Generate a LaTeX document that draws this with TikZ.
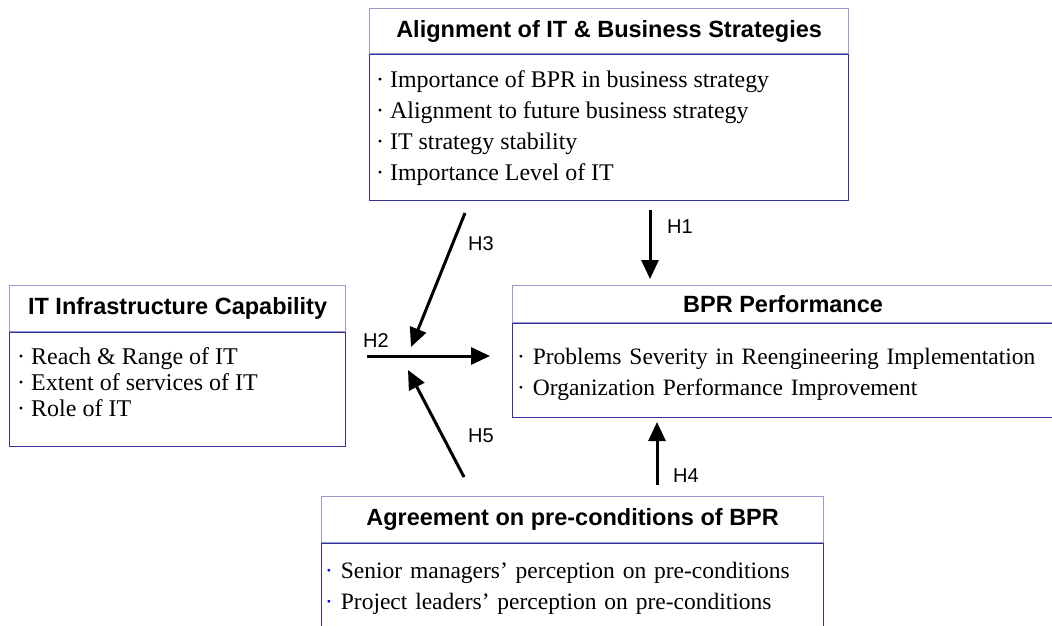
\documentclass[tikz,border=0pt]{standalone}
\usepackage{fontspec}
\setmainfont{Liberation Serif}
\newfontfamily\arialfont{Liberation Sans}
\usetikzlibrary{arrows.meta}

\definecolor{headline}{HTML}{9999CC}
\definecolor{bodyline}{HTML}{333399}
\definecolor{dotblue}{HTML}{0000FF}

\tikzset{
  headbox/.style={draw=headline, line width=1.2pt, inner sep=0pt, anchor=north west,
    font=\arialfont\bfseries\fontsize{23.5}{26}\selectfont, align=center},
  bodybox/.style={draw=bodyline, line width=1.2pt, anchor=north west, inner sep=0pt},
  bodytext/.style={align=left, inner sep=0pt, anchor=west, font=\fontsize{23.5}{31}\selectfont},
  link/.style={line width=3pt, -{Triangle[length=19pt,width=17pt]}},
  hlabel/.style={font=\arialfont\fontsize{20}{22}\selectfont, anchor=west, inner sep=0pt}
}

\begin{document}
\begin{tikzpicture}[x=1pt, y=-1pt]
\clip (0,0) rectangle (1052,625);

% Alignment of IT & Business Strategies
\node[headbox, minimum width=479pt, minimum height=45pt] (align) at (369,8)
  {Alignment of IT \& Business Strategies};
\node[bodybox, minimum width=479pt, minimum height=146pt] (alignbody) at (align.south west) {};
\node[bodytext, font=\fontsize{23.9}{31}\selectfont] (aligntext)
  at ([xshift=7pt, yshift=-0.5pt]alignbody.west)
  {· Importance of BPR in business strategy\\
   · Alignment to future business strategy\\
   · IT strategy stability\\
   · Importance Level of IT};

% IT Infrastructure Capability: list set a little above the centre of its frame
\node[headbox, minimum width=336pt, minimum height=46pt] (infra) at (9,285)
  {IT Infrastructure Capability};
\node[bodybox, minimum width=336pt, minimum height=114pt] (infrabody) at (infra.south west) {};
\node[bodytext, font=\fontsize{24}{26}\selectfont] (infratext)
  at ([xshift=8pt, yshift=7.5pt]infrabody.west)
  {· Reach \& Range of IT\\
   · Extent of services of IT\\
   · Role of IT};

% BPR Performance
\node[headbox, minimum width=541pt, minimum height=37pt] (perf) at (512,285)
  {BPR Performance};
\node[bodybox, minimum width=541pt, minimum height=94pt] (perfbody) at (perf.south west) {};
\node[bodytext, text width=525pt] (perftext) at ([xshift=5pt, yshift=-3.5pt]perfbody.west)
  {· Problems Severity in Reengineering Implementation\\
   · Organization Performance Improvement};

% Agreement on pre-conditions of BPR
\node[headbox, minimum width=502pt, minimum height=46pt] (agree) at (321,496)
  {Agreement on pre-conditions of BPR};
\node[bodybox, minimum width=502pt, minimum height=89pt] (agreebody) at (agree.south west) {};
\node[bodytext, text width=490pt] (agreetext) at ([xshift=4pt]agreebody.west)
  {\textcolor{dotblue}{·} Senior managers’ perception on pre-conditions\\
   \textcolor{dotblue}{·} Project leaders’ perception on pre-conditions};

% hypothesis arrows
\coordinate (h1s) at (650,210);
\coordinate (h1e) at (650,279);
\coordinate (h3s) at (465,213);
\coordinate (h3e) at (411,347);
\coordinate (h2s) at (367,356);
\coordinate (h2e) at (490,356);
\coordinate (h5s) at (464,477);
\coordinate (h5e) at (408,370);
\coordinate (h4s) at (657,485);
\coordinate (h4e) at (657,422);

\draw[link] (h1s) -- (h1e);
\draw[link] (h3s) -- (h3e);
\draw[link] (h2s) -- (h2e);
\draw[link] (h5s) -- (h5e);
\draw[link] (h4s) -- (h4e);

\node[hlabel] (l1) at (667,227) {H1};
\node[hlabel] (l3) at (468,244) {H3};
\node[hlabel] (l2) at (363,341) {H2};
\node[hlabel] (l5) at (468,436) {H5};
\node[hlabel] (l4) at (673,476) {H4};
\end{tikzpicture}
\end{document}
